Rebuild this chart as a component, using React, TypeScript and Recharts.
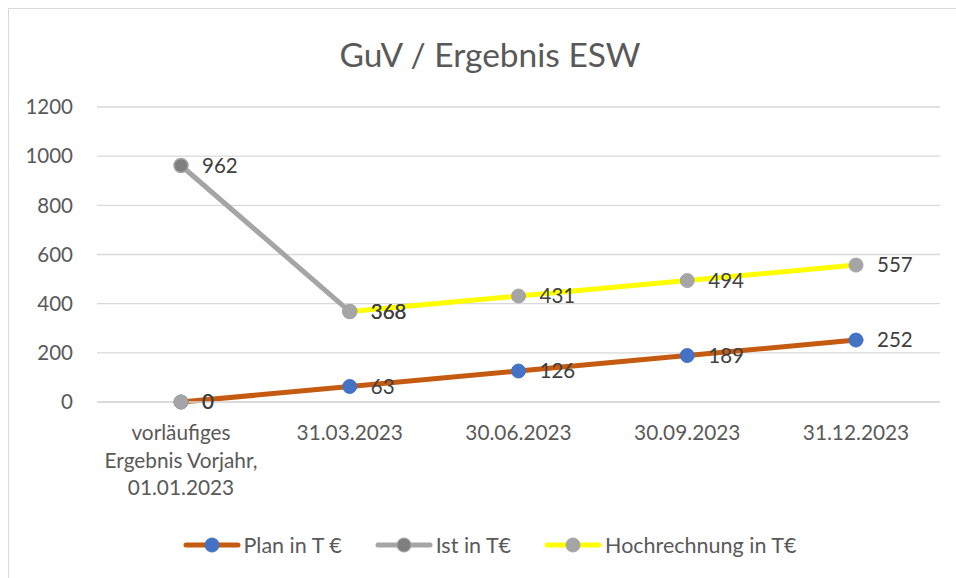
import React from "react";
import { LineChart, Line, XAxis, YAxis, CartesianGrid, LabelList, Legend } from "recharts";

// ---- data ----
const categories = [
  "vorläufiges Ergebnis Vorjahr, 01.01.2023",
  "31.03.2023",
  "30.06.2023",
  "30.09.2023",
  "31.12.2023",
];
const categoryLines: string[][] = [
  ["vorläufiges", "Ergebnis Vorjahr,", "01.01.2023"],
  ["31.03.2023"],
  ["30.06.2023"],
  ["30.09.2023"],
  ["31.12.2023"],
];
const plan = [0, 63, 126, 189, 252];
const ist: (number | null)[] = [962, 368, null, null, null];
const hochrechnung = [0, 368, 431, 494, 557];
// whether the Hochrechnung line segment leading to this point is drawn
const hochrechnungLineVisible = [false, true, true, true, true];
const yTicks = [0, 200, 400, 600, 800, 1000, 1200];
const title = "GuV / Ergebnis ESW";
const seriesNames = ["Plan in T €", "Ist in T€", "Hochrechnung in T€"];

const FONT = "Lato, 'Open Sans', sans-serif";
const TEXT = "#595959";
const LABEL = "#404040";
const ORANGE = "#C55A11";
const BLUE = "#4472C4";
const GRAY = "#A5A5A5";
const DARKGRAY = "#7F7F7F";
const YELLOW = "#FFFF00";

const data = categories.map((c, i) => ({
  category: c,
  plan: plan[i],
  ist: ist[i],
  hochLine: hochrechnungLineVisible[i] ? hochrechnung[i] : null,
  hoch: hochrechnung[i],
}));

const XTick = (props: any) => {
  const { x, y, payload } = props;
  const idx = categories.indexOf(payload.value);
  const lines = idx >= 0 ? categoryLines[idx] : [String(payload.value)];
  return (
    <text x={x} y={y} textAnchor="middle" fill={TEXT} fontSize={20.8} fontFamily={FONT}>
      {lines.map((l, i) => (
        <tspan key={i} x={x} dy={i === 0 ? 38 : 27.5}>
          {l}
        </tspan>
      ))}
    </text>
  );
};

const legendItems = [
  { label: seriesNames[0], line: ORANGE, dot: BLUE, dotStroke: BLUE },
  { label: seriesNames[1], line: GRAY, dot: DARKGRAY, dotStroke: GRAY },
  { label: seriesNames[2], line: YELLOW, dot: GRAY, dotStroke: GRAY },
];

const renderLegend = () => (
  <div
    style={{
      display: "flex",
      justifyContent: "center",
      alignItems: "center",
      height: 30,
      fontFamily: FONT,
      fontSize: 21.5,
      color: TEXT,
      gap: 33,
      paddingLeft: 14,
    }}
  >
    {legendItems.map((it) => (
      <div key={it.label} style={{ display: "flex", alignItems: "center" }}>
        <svg width={58} height={16} style={{ display: "block" }}>
          <line x1={3} x2={55} y1={8} y2={8} stroke={it.line} strokeWidth={5} strokeLinecap="round" />
          <circle cx={29} cy={8} r={7} fill={it.dot} stroke={it.dotStroke} strokeWidth={1} />
        </svg>
        <span style={{ marginLeft: 3, whiteSpace: "nowrap" }}>{it.label}</span>
      </div>
    ))}
  </div>
);

const fmt = (v: any) => (v === null || v === undefined ? "" : v);

export default function App() {
  return (
    <div
      style={{
        width: 956,
        height: 578,
        padding: "8px 0 0 8px",
        boxSizing: "border-box",
        overflow: "hidden",
        background: "#fff",
      }}
    >
      <style>{"html,body{margin:0;padding:0;overflow:hidden;}"}</style>
      <div
        style={{
          position: "relative",
          width: 948,
          height: 570,
          borderTop: "1px solid #D9D9D9",
          borderLeft: "1px solid #D9D9D9",
          background: "#fff",
          boxSizing: "border-box",
          overflow: "hidden",
        }}
      >
        <div
          style={{
            position: "absolute",
            left: 0,
            top: 25,
            width: 962,
            textAlign: "center",
            fontFamily: FONT,
            fontSize: 33.5,
            lineHeight: "40px",
            color: TEXT,
            zIndex: 2,
          }}
        >
          {title}
        </div>
        <LineChart
          width={947}
          height={569}
          data={data}
          margin={{ top: 98, right: 16, bottom: 0, left: 0 }}
        >
          <CartesianGrid horizontal vertical={false} stroke="#D9D9D9" strokeWidth={1.3} />
          <XAxis
            dataKey="category"
            interval={0}
            tickLine={false}
            tickSize={0}
            tickMargin={0}
            axisLine={{ stroke: "#D9D9D9", strokeWidth: 1.3 }}
            padding={{ left: 84, right: 84 }}
            height={146}
            tick={<XTick />}
          />
          <YAxis
            domain={[0, 1200]}
            ticks={yTicks}
            interval={0}
            axisLine={false}
            tickLine={false}
            tickSize={0}
            tickMargin={24}
            width={88}
            tick={{ fill: TEXT, fontSize: 20.5, fontFamily: FONT }}
          />
          <Legend
            verticalAlign="bottom"
            content={renderLegend}
            wrapperStyle={{ top: 521, bottom: "auto", left: 0, width: 947, height: 30 }}
          />
          <Line
            dataKey="plan"
            stroke={ORANGE}
            strokeWidth={5}
            strokeLinecap="round"
            dot={{ r: 7, fill: BLUE, stroke: BLUE, strokeWidth: 1 }}
            activeDot={false}
            isAnimationActive={false}
          >
            <LabelList dataKey="plan" position="right" offset={21} fill={LABEL} fontSize={20.5} fontFamily={FONT} formatter={fmt} />
          </Line>
          <Line
            dataKey="ist"
            stroke={GRAY}
            strokeWidth={5}
            strokeLinecap="round"
            dot={{ r: 7, fill: DARKGRAY, stroke: GRAY, strokeWidth: 1.5 }}
            activeDot={false}
            isAnimationActive={false}
          >
            <LabelList dataKey="ist" position="right" offset={21} fill={LABEL} fontSize={20.5} fontFamily={FONT} formatter={fmt} />
          </Line>
          <Line
            dataKey="hochLine"
            stroke={YELLOW}
            strokeWidth={5}
            strokeLinecap="round"
            dot={false}
            activeDot={false}
            isAnimationActive={false}
          />
          <Line
            dataKey="hoch"
            stroke="none"
            dot={{ r: 7, fill: GRAY, stroke: GRAY, strokeWidth: 1 }}
            activeDot={false}
            isAnimationActive={false}
          >
            <LabelList dataKey="hoch" position="right" offset={21} fill={LABEL} fontSize={20.5} fontFamily={FONT} formatter={fmt} />
          </Line>
        </LineChart>
      </div>
    </div>
  );
}
